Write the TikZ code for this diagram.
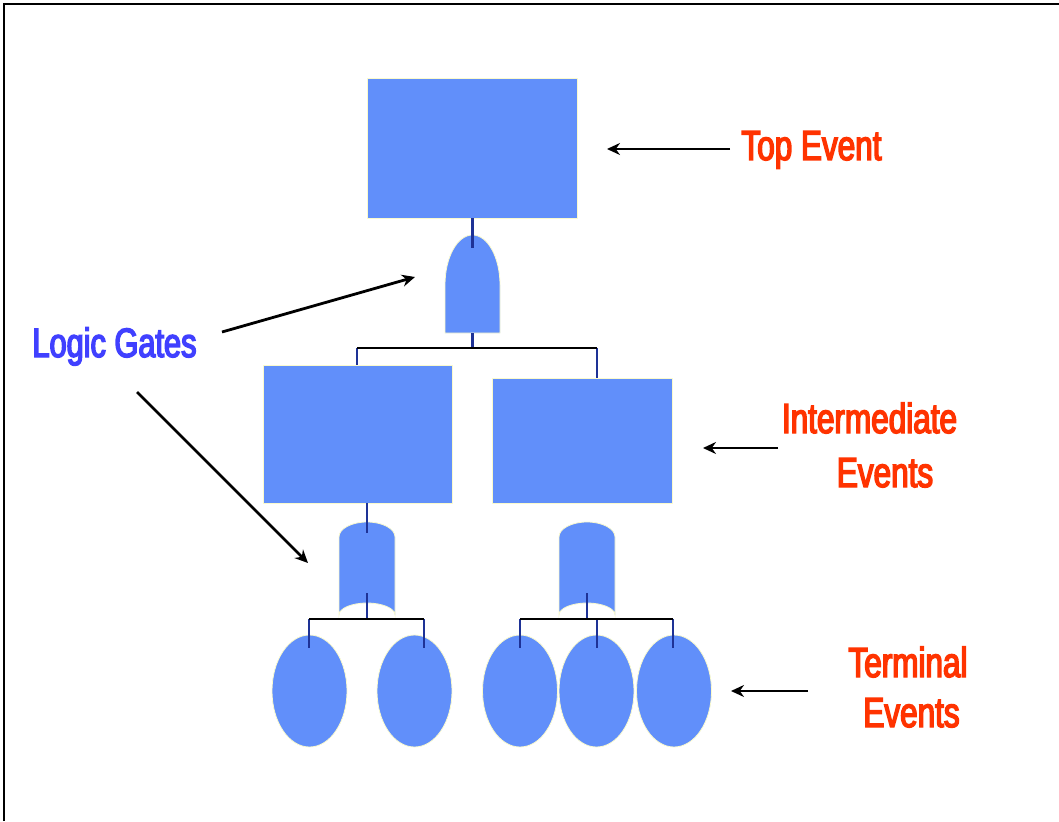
\documentclass[tikz,border=0pt]{standalone}
\usepackage{fontspec}
\usetikzlibrary{shapes.geometric,arrows.meta}
\newfontfamily\lblfont{Liberation Sans}[FakeStretch=0.75,FakeBold=3.5]
\definecolor{evfill}{RGB}{97,143,250}
\definecolor{evedge}{RGB}{250,250,205}
\definecolor{stubblue}{RGB}{30,50,150}
\definecolor{lblred}{RGB}{255,51,0}
\definecolor{lblblue}{RGB}{64,64,255}

\begin{document}
\begin{tikzpicture}[x=1pt,y=-1pt,
  event/.style={rectangle,fill=evfill,draw=evedge,line width=0.8pt,inner sep=0pt},
  basic/.style={ellipse,fill=evfill,draw=evedge,line width=0.8pt,inner sep=0pt,
                minimum width=75pt,minimum height=112pt},
  gatefill/.style={fill=evfill,draw=evedge,line width=0.8pt},
  stub/.style={draw=stubblue,line width=2.2pt},
  busline/.style={draw=black,line width=2.4pt},
  pointer/.style={draw=black,line width=2.8pt,-{Stealth[length=13pt,width=12pt]}},
  evlabel/.style={text=lblred,font=\lblfont\fontsize{42}{50}\selectfont,inner sep=0pt,anchor=base},
  gatelabel/.style={text=lblblue,font=\lblfont\fontsize{41}{50}\selectfont,inner sep=0pt,anchor=base},
  % AND gate: flat bottom, domed top; origin at the top of the dome
  andgate/.pic={
    \path[gatefill] (-27.5,98) -- (-27.5,50)
      .. controls (-27.5,22.4) and (-15.2,0) .. (0,0)
      .. controls (15.2,0) and (27.5,22.4) .. (27.5,50)
      -- (27.5,98) -- cycle;
    \coordinate (-in) at (0,13);
    \coordinate (-out) at (0,98);
  },
  % OR gate: rounded top, concave bottom; origin at the top of the cap
  orgate/.pic={
    \path[gatefill] (-28,93) -- (-28,15)
      .. controls (-28,6.7) and (-15.5,0) .. (0,0)
      .. controls (15.5,0) and (28,6.7) .. (28,15)
      -- (28,93)
      .. controls (28,86.4) and (15.5,81) .. (0,81)
      .. controls (-15.5,81) and (-28,86.4) .. (-28,93) -- cycle;
    \coordinate (-in) at (0,11);
    \coordinate (-out) at (0,71);
  }
]
\useasboundingbox (0,0) rectangle (1059,821);

% frame
\draw[line width=1.8pt] (4,821) -- (4,4) -- (1059,4);

% events
\node[event,minimum width=210pt,minimum height=140pt] (top) at (472,148) {};
\node[event,minimum width=189pt,minimum height=138pt] (imL) at (357.5,434) {};
\node[event,minimum width=180pt,minimum height=125pt] (imR) at (582,440.5) {};

\node[basic] (e1) at (309.5,691) {};
\node[basic] (e2) at (414.5,691) {};
\node[basic] (e3) at (520,691) {};
\node[basic] (e4) at (596.5,691) {};
\node[basic] (e5) at (674,691) {};

% gates
\pic (g0) at (472.5,235) {andgate};
\pic (g1) at (367,522) {orgate};
\pic (g2) at (587,522) {orgate};

% junction points
\coordinate (b0L) at (357,348);
\coordinate (b0R) at (597,348);
\coordinate (b1L) at (309,619);
\coordinate (b1R) at (424,619);
\coordinate (b2L) at (520,619);
\coordinate (b2M) at (597,619);
\coordinate (b2R) at (673,619);

% gate inputs and outputs
\draw[stub] (g0-in |- top.south) -- (g0-in);
\draw[stub] (g0-out) -- (g0-out |- b0L);
\draw[stub] (b0L) -- (b0L |- imL.north);
\draw[stub] (b0R) -- (b0R |- imR.north);
\draw[stub] (g1-in |- imL.south) -- (g1-in);
\draw[stub] (g1-out) -- (g1-out |- b1L);
\draw[stub] (g2-out) -- (g2-out |- b2L);
\foreach \p in {b1L,b1R,b2L,b2M,b2R}
  \draw[stub] (\p) -- ++(0,29);

% bus lines
\draw[busline] (b0L) -- (b0R);
\draw[busline] (b1L) -- (b1R);
\draw[busline] (b2L) -- (b2R);

% labels
\node[evlabel] (lbTop) at (811.5,160) {Top Event};
\node[evlabel] (lbIm1) at (869.5,433) {Intermediate};
\node[evlabel] (lbIm2) at (885,487) {Events};
\node[evlabel] (lbTe1) at (908,677) {Terminal};
\node[evlabel] (lbTe2) at (911.5,727) {Events};
\node[gatelabel] (lbGate) at (114.5,357) {Logic Gates};

% pointers
\coordinate (pTopA) at (730,149);   \coordinate (pTopB) at (607,149);
\coordinate (pImA) at (778,448);    \coordinate (pImB) at (703,448);
\coordinate (pTeA) at (808,691);    \coordinate (pTeB) at (731,691);
\coordinate (pG1A) at (222,332);    \coordinate (pG1B) at (415,277);
\coordinate (pG2A) at (137,392);    \coordinate (pG2B) at (308,563);
\draw[pointer] (pTopA) -- (pTopB);
\draw[pointer] (pImA) -- (pImB);
\draw[pointer] (pTeA) -- (pTeB);
\draw[pointer] (pG1A) -- (pG1B);
\draw[pointer] (pG2A) -- (pG2B);
\end{tikzpicture}
\end{document}
